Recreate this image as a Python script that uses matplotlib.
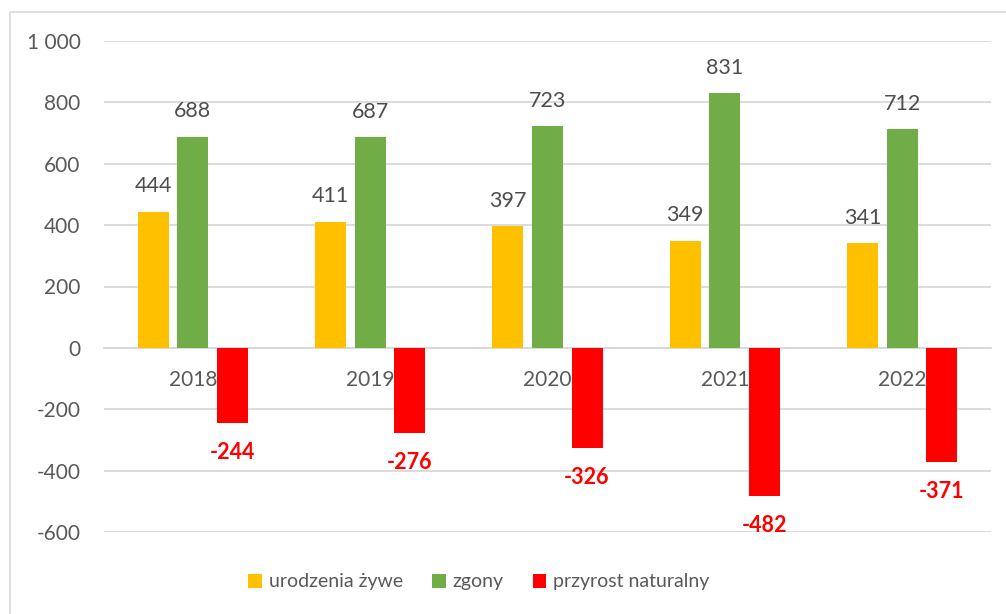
import numpy as np
import matplotlib.pyplot as plt
from matplotlib.patches import Rectangle
from matplotlib.ticker import FuncFormatter

# dane
years = [ '2018', '2019', '2020', '2021', '2022' ]
urodzenia = [ 444, 411, 397, 349, 341 ]
zgony = [ 688, 687, 723, 831, 712 ]
przyrost = [ -244, -276, -326, -482, -371 ]

c_yellow = '#FFC000'
c_green = '#70AD47'
c_red = '#FF0000'
c_text = '#595959'
c_grid = '#D9D9D9'

plt.rcParams[ 'font.family' ] = [ 'Lato', 'DejaVu Sans' ]

fig = plt.figure( figsize=( 10.06, 6.14 ), dpi=100 )
ax = fig.add_axes( [ 104 / 1006, 1 - 532 / 614, 887 / 1006, 491 / 614 ] )

# ramka wykresu
fig.patches.append( Rectangle( ( 10 / 1006, -0.1 ), 1.2, 1 - 12 / 614 + 0.1,
                               transform=fig.transFigure, fill=False,
                               edgecolor=c_grid, linewidth=1.2 ) )

x = np.arange( len( years ) )
w = 0.175
step = 0.223

b1 = ax.bar( x - step, urodzenia, w, color=c_yellow, label='urodzenia żywe', zorder=3 )
b2 = ax.bar( x, zgony, w, color=c_green, label='zgony', zorder=3 )
b3 = ax.bar( x + step, przyrost, w, color=c_red, label='przyrost naturalny', zorder=3 )

# etykiety danych
for bars in ( b1, b2 ):
    for rect in bars:
        h = rect.get_height()
        ax.annotate( f'{h:d}', ( rect.get_x() + rect.get_width() / 2, h ),
                     xytext=( 0, 11 ), textcoords='offset points',
                     ha='center', va='bottom', fontsize=15.5, color='#4D4D4D' )
for rect in b3:
    h = rect.get_height()
    ax.annotate( f'{h:d}', ( rect.get_x() + rect.get_width() / 2, h ),
                 xytext=( 0, -14 ), textcoords='offset points',
                 ha='center', va='top', fontsize=15.5, color=c_red, fontweight='bold' )

ax.set_xlim( -0.5, len( years ) - 0.5 )
ax.set_ylim( -600, 1000 )
ax.set_yticks( np.arange( -600, 1001, 200 ) )
ax.yaxis.set_major_formatter( FuncFormatter( lambda v, p: f'{int(v):,}'.replace( ',', ' ' ) ) )
ax.yaxis.grid( True, color=c_grid, linewidth=1.3, zorder=0 )
ax.set_axisbelow( True )

ax.set_xticks( x )
ax.set_xticklabels( years )
ax.spines[ 'bottom' ].set_position( ( 'data', 0 ) )
ax.spines[ 'bottom' ].set_color( c_grid )
ax.spines[ 'bottom' ].set_linewidth( 1.3 )
for s in ( 'top', 'right', 'left' ):
    ax.spines[ s ].set_visible( False )

ax.tick_params( axis='x', length=0, pad=16, labelsize=15, labelcolor=c_text )
ax.tick_params( axis='y', length=0, pad=17, labelsize=15, labelcolor=c_text )

fig.legend( handles=[ b1, b2, b3 ], loc='center', bbox_to_anchor=( 0.476, 1 - 582 / 614 ),
            ncol=3, frameon=False, fontsize=14, labelcolor=c_text,
            handlelength=0.7, handleheight=0.7, handletextpad=0.35, columnspacing=1.5 )

fig.savefig( 'out.png', dpi=100 )
